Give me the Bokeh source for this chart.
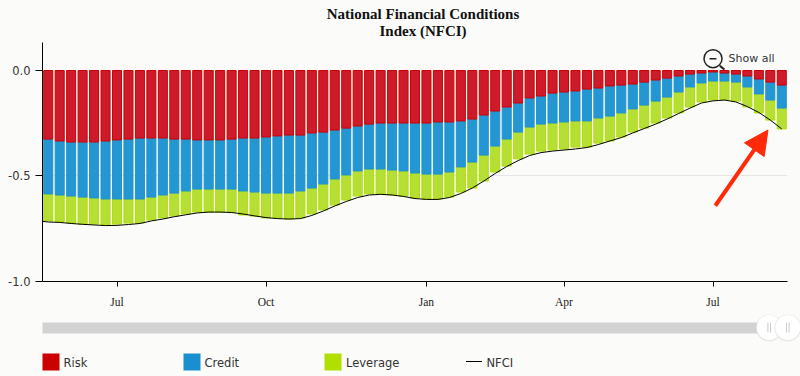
from bokeh.embed import file_html
from bokeh.layouts import column
from bokeh.models import (Arrow, FixedTicker, Label, NormalHead, NumeralTickFormatter,
                          Range1d)
from bokeh.plotting import figure
from bokeh.resources import INLINE

BG = "#FBFBF9"
week = list(range(65))
tick_weeks = [6, 19, 33, 45, 58]
tick_labels = ["Jul", "Oct", "Jan", "Apr", "Jul"]
y_ticks = [-1.0, -0.5, 0.0]
title_lines = ["National Financial Conditions", "Index (NFCI)"]
series_names = ["Risk", "Credit", "Leverage", "NFCI"]

# lower edge of each stacked component, index units
risk_end = [-v for v in [
    .325, .334, .339, .339, .339, .334, .329, .325, .320, .320, .320, .325, .325, .329, .329, .329,
    .325, .320, .320, .315, .310, .306, .306, .296, .292, .282, .273, .263, .254, .249, .249, .249,
    .249, .249, .244, .244, .239, .230, .211, .192, .173, .154, .130, .121, .107, .102, .097, .088,
    .083, .073, .069, .064, .055, .045, .036, .026, .017, .012, .007, .012, .017, .026, .040, .055, .069]]
credit_end = [-v for v in [
    .585, .590, .595, .600, .604, .609, .609, .609, .609, .600, .590, .581, .571, .562, .562, .562,
    .562, .571, .576, .581, .581, .581, .571, .557, .538, .514, .495, .476, .467, .467, .472, .476,
    .486, .491, .491, .481, .457, .434, .401, .358, .325, .292, .268, .254, .249, .244, .239, .239,
    .225, .216, .201, .182, .164, .145, .126, .102, .078, .059, .050, .050, .055, .078, .111, .140, .178]]
leverage_end = [-v for v in [
    .713, .718, .723, .728, .728, .732, .728, .723, .723, .709, .699, .690, .680, .671, .671, .671,
    .671, .685, .690, .699, .699, .704, .699, .680, .661, .638, .614, .595, .585, .585, .590, .595,
    .604, .609, .609, .600, .576, .557, .524, .481, .453, .419, .396, .382, .377, .372, .363, .363,
    .344, .334, .315, .292, .273, .249, .225, .201, .173, .149, .140, .140, .145, .173, .201, .235, .277]]
nfci_week = [-0.5] + week
nfci = [-v for v in [
    .715,
    .718, .720, .725, .729, .732, .735, .734, .730, .725, .713,
    .704, .693, .684, .675, .671, .671, .673, .680, .689, .697,
    .702, .704, .702, .687, .666, .642, .621, .602, .590, .587,
    .590, .597, .607, .611, .611, .602, .583, .557, .524, .488,
    .455, .427, .403, .389, .382, .377, .372, .365, .351, .334,
    .318, .296, .275, .254, .230, .204, .178, .154, .144, .140,
    .149, .171, .199, .235, .277]]

# top strip: title, one unit = one pixel
t = figure(width=800, height=42, output_backend="svg", toolbar_location=None,
           x_range=Range1d(0, 800), y_range=Range1d(42, 0), min_border=0,
           background_fill_color=BG, border_fill_color=BG, outline_line_color=None,
           frame_align=False)
t.axis.visible = False
t.grid.visible = False
t.text(x=[422.5, 422.5], y=[13, 30], text=title_lines, text_align="center", text_baseline="middle",
       text_font={"value": "Liberation Serif"}, text_font_style="bold",
       text_font_size="15px", text_color="#111111")

p = figure(width=800, height=268, output_backend="svg", toolbar_location=None,
           x_range=Range1d(-0.5, 64.5), y_range=Range1d(-1.0, 0.1327),
           min_border_left=42, min_border_right=13, min_border_top=0, min_border_bottom=29,
           background_fill_color=BG, border_fill_color=BG, outline_line_color=None,
           frame_align=False)

zero = [0.0] * len(week)
bar_w = 0.79
p.vbar(x=week, bottom=credit_end, top=leverage_end, width=bar_w,
       fill_color="#B6DF35", line_color="#B0DF00")
p.vbar(x=week, bottom=risk_end, top=credit_end, width=bar_w,
       fill_color="#2497D2", line_color="#1F93D1")
p.vbar(x=week, bottom=zero, top=risk_end, width=bar_w,
       fill_color="#CE1B2C", line_color="#CC0000")
p.line(nfci_week, nfci, line_color="#000000", line_width=1)

p.xgrid.visible = False
p.ygrid.ticker = FixedTicker(ticks=[-0.5])
p.ygrid.grid_line_color = "#E6E6E6"
p.ygrid.level = "underlay"

p.xaxis.ticker = FixedTicker(ticks=tick_weeks)
p.xaxis.major_label_overrides = dict(zip(tick_weeks, tick_labels))
p.xaxis.major_tick_out = 5
p.xaxis.major_tick_in = 0
p.xaxis.minor_tick_line_color = None
p.xaxis.axis_line_color = "#000000"
p.xaxis.major_tick_line_color = "#000000"
p.xaxis.major_label_text_font = "Liberation Serif"
p.xaxis.major_label_text_font_size = "11.5px"
p.xaxis.major_label_text_color = "#222222"
p.xaxis.major_label_standoff = 9

p.yaxis.ticker = FixedTicker(ticks=y_ticks)
p.yaxis.formatter = NumeralTickFormatter(format="0.0")
p.yaxis.major_tick_out = 7
p.yaxis.major_tick_in = 0
p.yaxis.minor_tick_line_color = None
p.yaxis.axis_line_color = "#000000"
p.yaxis.major_tick_line_color = "#000000"
p.yaxis.major_label_text_font = "DejaVu Sans"
p.yaxis.major_label_text_font_size = "11.5px"
p.yaxis.major_label_text_color = "#333333"
p.yaxis.major_label_standoff = 5

# "Show all" control
p.scatter([58.0], [0.056], size=18, marker="circle", fill_color=None, line_color="#222222", line_width=1.5)
p.segment([58.6], [0.022], [59.0], [0.005], line_color="#222222", line_width=2)
p.segment([57.7], [0.056], [58.3], [0.056], line_color="#222222", line_width=1.5)
p.add_layout(Label(x=59.35, y=0.056, text="Show all", text_align="left", text_baseline="middle",
                   text_font="DejaVu Sans", text_font_size="11px", text_color="#333333"))

# arrow annotation
p.add_layout(Arrow(end=NormalHead(size=24, fill_color="#FF2A0A", line_color="#FF2A0A"),
                   x_start=58.2, y_start=-0.641, x_end=62.8, y_end=-0.282,
                   line_color="#FF2A0A", line_width=4))

# lower strip: range slider and legend, one unit = one pixel
q = figure(width=800, height=66, output_backend="svg", toolbar_location=None,
           x_range=Range1d(0, 800), y_range=Range1d(66, 0), min_border=0,
           background_fill_color=BG, border_fill_color=BG, outline_line_color=None,
           frame_align=False)
q.axis.visible = False
q.grid.visible = False

q.quad(left=[42], right=[770], top=[12], bottom=[23], fill_color="#D2D2D2", line_color=None)
for cx in [768.7, 787.3]:
    q.scatter([cx], [17.5], size=27, marker="circle", fill_color="#DDDDDD", fill_alpha=0.6, line_color=None)
    q.scatter([cx], [17], size=25, marker="circle", fill_color="#FFFFFF", line_color=None)
    q.segment([cx - 1.3, cx + 1.3], [12, 12], [cx - 1.3, cx + 1.3], [22, 22],
              line_color="#CCCCCC", line_width=1)

swatch_x = [42, 183, 324]
swatch_col = ["#CC0000", "#1A8FD0", "#B0DF00"]
q.quad(left=swatch_x, right=[x + 17 for x in swatch_x], top=[43] * 3, bottom=[60] * 3,
       fill_color=swatch_col, line_color=None)
q.segment([465.5], [51], [481.5], [51], line_color="#000000", line_width=1.2)
q.text(x=[63, 204, 345.5, 486], y=[52] * 4, text=series_names, text_baseline="middle",
       text_font={"value": "DejaVu Sans"}, text_font_size="11.5px", text_color="#333333")

html = file_html(column(t, p, q, spacing=0), INLINE)
html = html.replace("<head>", f"<head><style>html,body{{margin:0!important;padding:0;background:{BG};overflow:hidden}}</style>", 1)
open("out.html", "w").write(html)
